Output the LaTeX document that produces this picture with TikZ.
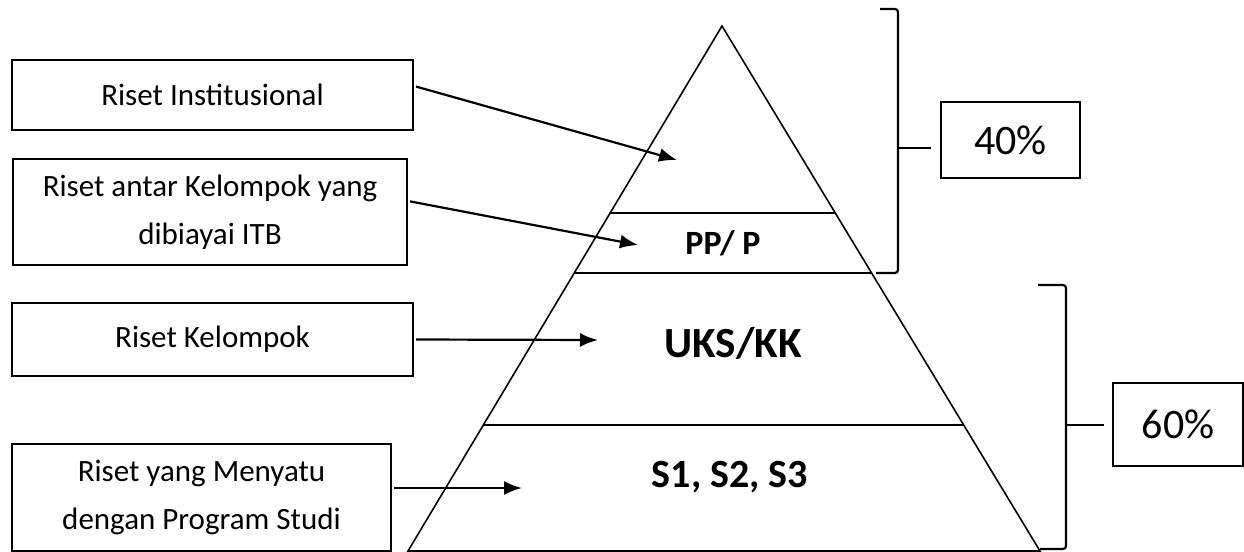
\documentclass[tikz,border=0pt]{standalone}
\usepackage{fontspec}
\setmainfont{Carlito}
\usetikzlibrary{arrows.meta,calc}

\begin{document}
\begin{tikzpicture}[
		x=0.5pt,y=-0.5pt,
		inp/.style = {-{Latex[length=9pt,width=7pt]}, line width=1.1pt, shorten <=1pt},
		riset/.style = {draw, line width=1.1pt, inner sep=0pt, align=center, font=\fontsize{15.5}{24}\selectfont},
		percent/.style = {draw, line width=1.1pt, inner sep=0pt, font=\fontsize{21}{25}\selectfont},
		layer/.style = {inner sep=0pt},
		brace/.style = {line width=1.1pt, rounded corners=1.5pt}
	]
	\useasboundingbox (0,0) rectangle (1244,552);
	% pyramid
	\coordinate (top) at (722,26);
	\coordinate (bl) at (408,551);
	\coordinate (br) at (1040,551);
	\draw [line width=0.8pt] (top) -- (bl) -- (br) -- cycle;
	\foreach \t in {0.356,0.4705,0.76}
		\draw [line width=0.8pt] ($(top)!\t!(bl)$) -- ($(top)!\t!(br)$);
	\node (pp) [layer, font=\bfseries\fontsize{17}{20}\selectfont] at (723,243) {PP/ P};
	\node (uks) [layer, font=\bfseries\fontsize{21.5}{25}\selectfont] at (733,343) {UKS/KK};
	\node (s123) [layer, font=\bfseries\fontsize{20}{24}\selectfont] at (730,477) {S1, S2, S3};
	
	% boxes on the left
	\node (inst) [riset, minimum width=200.5pt, minimum height=35pt] at (212.5,95) {Riset Institusional};
	\node (antar) [riset, minimum width=197pt, minimum height=53pt] at (210,212) {Riset antar Kelompok yang\\dibiayai ITB};
	\node (kel) [riset, minimum width=200.5pt, minimum height=36.5pt] at (212.5,339.5) {Riset Kelompok};
	\node (prodi) [riset, minimum width=189.5pt, minimum height=53.5pt] at (201.5,497.5) {Riset yang Menyatu\\dengan Program Studi};
	
	\coordinate (t1) at (677,160);
	\coordinate (t2) at (638,245);
	\coordinate (t3) at (598,340);
	\coordinate (t4) at (522,488);
	\path [inp] ([yshift=4.5pt]inst.east) edge (t1);
	\path [inp] ([yshift=5.5pt]antar.east) edge (t2);
	\path [inp] (kel.east) edge (t3);
	\path [inp] ([yshift=4.75pt]prodi.east) edge (t4);
	
	% percentages
	\node (p40) [percent, minimum width=69.5pt, minimum height=38pt] at (1010.5,140) {40\%};
	\node (p60) [percent, minimum width=65pt, minimum height=41.5pt] at (1178,424.5) {60\%};
	\coordinate (b40) at (898,148);
	\coordinate (b60) at (1066,425);
	\draw [brace] (880,9) -- (898,9) -- (898,273) -- (876,273);
	\draw [brace] (1038,285) -- (1066,285) -- (1066,549) -- (1040,549);
	\draw [brace, shorten >=4.5pt] (b40) -- (b40 -| p40.west);
	\draw [brace, shorten >=4pt] (b60) -- (b60 -| p60.west);
\end{tikzpicture}
\end{document}
